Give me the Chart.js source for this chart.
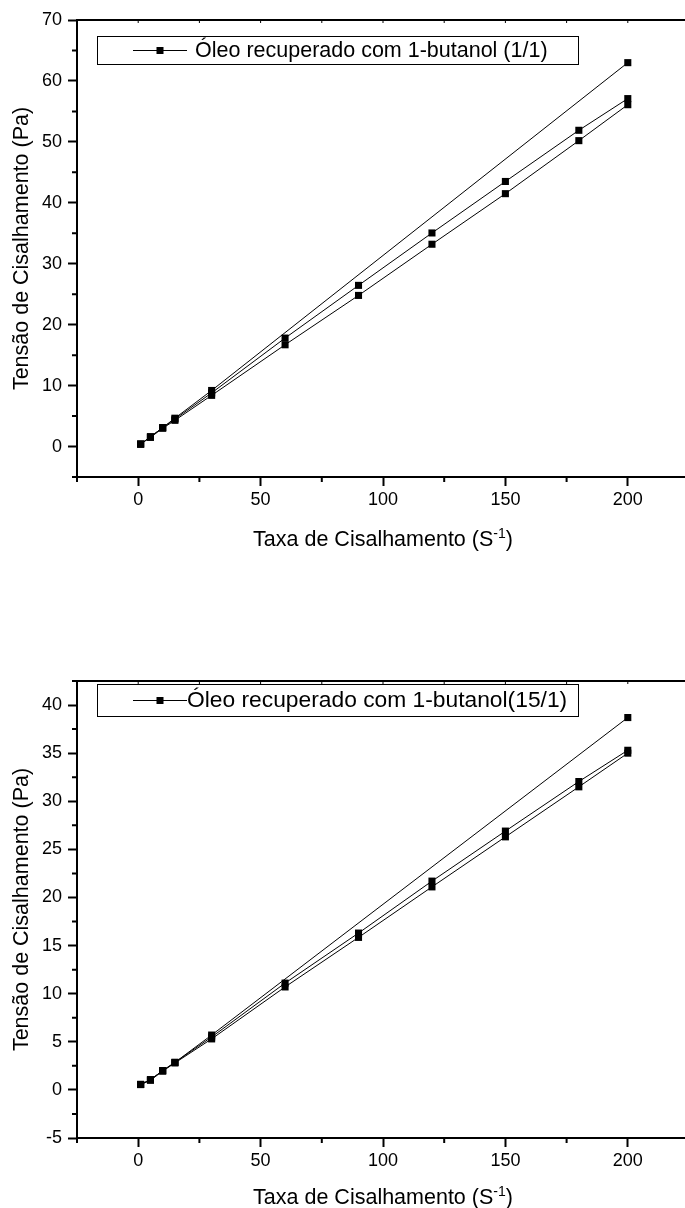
<!DOCTYPE html>
<html>
<head>
<meta charset="utf-8">
<script src="https://cdn.jsdelivr.net/npm/chart.js@4.4.0/dist/chart.umd.min.js"></script>
<style>
  html, body { margin: 0; padding: 0; background: #fff; width: 685px; height: 1208px; overflow: hidden; }
  canvas { position: absolute; left: 0; }
  #chartTop { top: 0; }
  #chartBottom { top: 661px; }
</style>
</head>
<body>
<canvas id="chartTop" width="700" height="580"></canvas>
<canvas id="chartBottom" width="700" height="547"></canvas>
<script>
const FONT = "'Liberation Sans', Arial, Helvetica, sans-serif";

// shear rate (1/s)
const shearRate = [1, 5, 10, 15, 30, 60, 90, 120, 150, 180, 200];
const shearRateUp = [1, 5, 10, 15, 30, 200];

// shear stress (Pa) - oil recovered with 1-butanol (1/1)
const stress11Up = [0.4, 1.6, 3.1, 4.65, 9.2, 63.0];
const stress11Mid = [0.4, 1.6, 3.1, 4.5, 8.8, 17.8, 26.45, 35.05, 43.5, 51.9, 57.1];
const stress11Low = [0.4, 1.5, 3.0, 4.3, 8.4, 16.7, 24.8, 33.2, 41.5, 50.2, 56.1];

// shear stress (Pa) - oil recovered with 1-butanol (15/1)
const stress151Up = [0.57, 1.06, 2.0, 2.86, 5.7, 38.7];
const stress151Mid = [0.57, 1.06, 2.0, 2.86, 5.5, 11.1, 16.3, 21.7, 26.9, 32.05, 35.3];
const stress151Low = [0.55, 1.0, 1.95, 2.8, 5.3, 10.7, 15.85, 21.1, 26.3, 31.5, 35.0];

const xTicks = [0, 50, 100, 150, 200];
const yTicksTop = [0, 10, 20, 30, 40, 50, 60, 70];
const yTicksBottom = [-5, 0, 5, 10, 15, 20, 25, 30, 35, 40];

const legendTop = 'Óleo recuperado com 1-butanol (1/1)';
const legendBottom = 'Óleo recuperado com 1-butanol(15/1)';
const xTitle = 'Taxa de Cisalhamento (S';
const xTitleSup = '-1';
const yTitle = 'Tensão de Cisalhamento (Pa)';

const pairs = (xs, ys) => xs.map((x, i) => ({ x: x, y: ys[i] }));

function series(xs, ys) {
  return {
    data: pairs(xs, ys),
    borderColor: '#000',
    borderWidth: 1,
    pointStyle: 'rect',
    pointRadius: 5,
    pointBackgroundColor: '#000',
    pointBorderWidth: 0,
    tension: 0,
    fill: false
  };
}

// top border, minor ticks, x title (with superscript) and the framed legend
const decorPlugin = {
  id: 'decor',
  afterDraw(chart, args, o) {
    const { ctx, chartArea: a, scales } = chart;
    const xs = scales.x, ys = scales.y;
    ctx.save();
    ctx.strokeStyle = '#000';
    ctx.lineWidth = 2;
    ctx.beginPath();
    ctx.moveTo(a.left - 1, a.top);
    ctx.lineTo(chart.width, a.top);
    ctx.stroke();

    // minor ticks on y
    const yt = o.yTicks, ystep = yt[1] - yt[0];
    ctx.beginPath();
    for (let v = yt[0] - ystep / 2; v <= ys.max + 1e-6; v += ystep) {
      if (v < ys.min - 1e-6) continue;
      const p = ys.getPixelForValue(v);
      ctx.moveTo(a.left - 5, p);
      ctx.lineTo(a.left, p);
    }
    // minor ticks on x + small inward ticks on the top border
    const xstep = xTicks[1] - xTicks[0];
    for (let v = xTicks[0] - xstep / 2; v <= xs.max + 1e-6; v += xstep) {
      const p = xs.getPixelForValue(v);
      ctx.moveTo(p, a.bottom);
      ctx.lineTo(p, a.bottom + 5);
    }
    ctx.stroke();
    ctx.lineWidth = 1;
    ctx.beginPath();
    for (let v = xTicks[0] - xstep / 2; v <= xs.max + 1e-6; v += xstep / 2) {
      const p = xs.getPixelForValue(v);
      ctx.moveTo(p, a.top);
      ctx.lineTo(p, a.top + 3);
    }
    ctx.stroke();

    // x title
    ctx.fillStyle = '#000';
    ctx.textBaseline = 'alphabetic';
    ctx.textAlign = 'left';
    const f1 = '21.5px ' + FONT, f2 = '14px ' + FONT;
    ctx.font = f1;
    const w1 = ctx.measureText(xTitle).width;
    const w3 = ctx.measureText(')').width;
    ctx.font = f2;
    const w2 = ctx.measureText(xTitleSup).width;
    const cx = (a.left + a.right) / 2;
    let tx = cx - (w1 + w2 + w3) / 2;
    const ty = a.bottom + o.titleOffset;
    ctx.font = f1;
    ctx.fillText(xTitle, tx, ty);
    ctx.font = f2;
    ctx.fillText(xTitleSup, tx + w1, ty - 8);
    ctx.font = f1;
    ctx.fillText(')', tx + w1 + w2, ty);

    // legend
    const L = o.legend;
    ctx.lineWidth = 1;
    ctx.strokeRect(L.left + 0.5, L.top + 0.5, L.right - L.left, L.bottom - L.top);
    const cy = (L.top + L.bottom) / 2;
    ctx.beginPath();
    ctx.moveTo(L.lineFrom, cy + 0.5);
    ctx.lineTo(L.lineTo, cy + 0.5);
    ctx.stroke();
    const mx = (L.lineFrom + L.lineTo) / 2;
    ctx.fillRect(mx - 3.5, cy - 3, 7, 7);
    ctx.font = L.fontSize + 'px ' + FONT;
    ctx.textBaseline = 'middle';
    ctx.fillText(chart.data.datasets[0].label, L.textX, cy + 1);
    ctx.restore();
  }
};

function makeChart(id, label, sets, yMin, yMax, yTicks, xAxisHeight, titleOffset, legend) {
  const datasets = sets.map(s => series(s[0], s[1]));
  datasets[0].label = label;
  return new Chart(document.getElementById(id), {
    type: 'line',
    data: { datasets: datasets },
    plugins: [decorPlugin],
    options: {
      responsive: false,
      animation: false,
      devicePixelRatio: 1,
      layout: { padding: { left: 0, top: 20, right: 11, bottom: 0 } },
      plugins: {
        legend: { display: false },
        tooltip: { enabled: false },
        decor: { yTicks: yTicks, titleOffset: titleOffset, legend: legend }
      },
      scales: {
        x: {
          type: 'linear',
          min: -25,
          max: 225,
          afterBuildTicks: s => { s.ticks = xTicks.map(v => ({ value: v })); },
          afterFit: s => { s.height = xAxisHeight; },
          grid: { drawOnChartArea: false, drawTicks: true, tickLength: 9, tickWidth: 2, tickColor: '#000' },
          border: { display: true, color: '#000', width: 2 },
          ticks: { color: '#000', font: { family: FONT, size: 18 }, padding: 3, maxRotation: 0 }
        },
        y: {
          type: 'linear',
          min: yMin,
          max: yMax,
          afterBuildTicks: s => { s.ticks = yTicks.map(v => ({ value: v })); },
          afterFit: s => { s.width = 77; },
          grid: { drawOnChartArea: false, drawTicks: true, tickLength: 9, tickWidth: 2, tickColor: '#000' },
          border: { display: true, color: '#000', width: 2 },
          ticks: { color: '#000', font: { family: FONT, size: 18 }, padding: 6 },
          title: {
            display: true,
            text: yTitle,
            color: '#000',
            font: { family: FONT, size: 21.5 },
            padding: { top: 9, bottom: 0 }
          }
        }
      }
    }
  });
}

makeChart('chartTop', legendTop,
  [[shearRateUp, stress11Up], [shearRate, stress11Mid], [shearRate, stress11Low]],
  -5, 70, yTicksTop, 103, 69,
  { left: 97, top: 36, right: 578, bottom: 64, lineFrom: 133, lineTo: 187, textX: 195, fontSize: 21.5 });

makeChart('chartBottom', legendBottom,
  [[shearRateUp, stress151Up], [shearRate, stress151Mid], [shearRate, stress151Low]],
  -5, 42.5, yTicksBottom, 70, 66,
  { left: 97, top: 23, right: 578, bottom: 55, lineFrom: 133, lineTo: 187, textX: 187, fontSize: 22.8 });
</script>
</body>
</html>
